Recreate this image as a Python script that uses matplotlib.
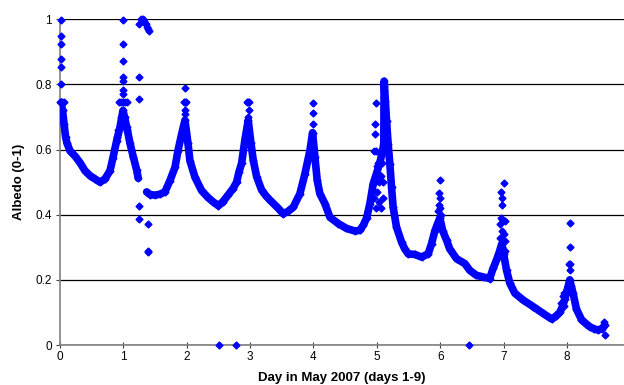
import matplotlib.pyplot as plt

# Albedo record, May 2007 (x = day of month offset, y = albedo 0-1)
# first run: day 0 to the gap after the day-1 peak
days_a = [0.016, 0.04, 0.063, 0.087, 0.11, 0.158, 0.237, 0.315, 0.394, 0.473,
          0.552, 0.631, 0.71, 0.789, 0.836, 0.894, 0.946, 0.994, 1.052, 1.104,
          1.156, 1.21, 1.235]
albedo_a = [0.745, 0.72, 0.68, 0.64, 0.62, 0.596, 0.58, 0.56, 0.535, 0.52,
            0.51, 0.50, 0.51, 0.535, 0.575, 0.627, 0.668, 0.72, 0.67, 0.62,
            0.578, 0.537, 0.512]

# second run: day 1.37 to the end of the record
days_b = [1.367, 1.42, 1.498, 1.577, 1.656, 1.735, 1.814, 1.861, 1.92, 1.972,
          2.019, 2.05, 2.13, 2.235, 2.334, 2.413, 2.497, 2.571, 2.65, 2.729,
          2.787, 2.823, 2.866, 2.918, 2.97, 3.013, 3.049, 3.103, 3.181, 3.25,
          3.312, 3.443, 3.522, 3.596, 3.68, 3.785, 3.864, 3.943, 3.986, 4.022,
          4.058, 4.1, 4.18, 4.26, 4.39, 4.52, 4.653, 4.73, 4.784, 4.838,
          4.89, 4.942, 5.0, 5.047, 5.095, 5.11, 5.115, 5.134, 5.153, 5.178,
          5.205, 5.232, 5.257, 5.31, 5.39, 5.44, 5.494, 5.6, 5.705, 5.81,
          5.863, 5.915, 5.954, 5.994, 6.04, 6.1, 6.15, 6.257, 6.388, 6.467,
          6.57, 6.677, 6.78, 6.834, 6.887, 6.94, 6.97, 7.0, 7.046, 7.098,
          7.177, 7.308, 7.465, 7.623, 7.756, 7.823, 7.886, 7.934, 7.965, 8.017,
          8.044, 8.068, 8.096, 8.15, 8.229, 8.297, 8.36, 8.423, 8.49, 8.549,
          8.596]
albedo_b = [0.47, 0.462, 0.46, 0.463, 0.47, 0.505, 0.545, 0.596, 0.648, 0.69,
            0.62, 0.566, 0.515, 0.474, 0.453, 0.44, 0.428, 0.44, 0.46, 0.48,
            0.5, 0.53, 0.558, 0.63, 0.69, 0.62, 0.568, 0.517, 0.476, 0.458,
            0.445, 0.42, 0.403, 0.41, 0.423, 0.464, 0.525, 0.596, 0.652, 0.578,
            0.507, 0.465, 0.434, 0.392, 0.373, 0.358, 0.35, 0.352, 0.367, 0.39,
            0.434, 0.495, 0.53, 0.56, 0.6, 0.62, 0.81, 0.75, 0.688, 0.617,
            0.556, 0.484, 0.423, 0.362, 0.316, 0.295, 0.28, 0.278, 0.27, 0.28,
            0.311, 0.35, 0.37, 0.39, 0.35, 0.322, 0.295, 0.265, 0.25, 0.229,
            0.214, 0.209, 0.204, 0.235, 0.26, 0.29, 0.31, 0.28, 0.23, 0.19,
            0.159, 0.138, 0.118, 0.097, 0.08, 0.088, 0.1, 0.12, 0.14, 0.179,
            0.2, 0.18, 0.159, 0.11, 0.078, 0.066, 0.056, 0.05, 0.046, 0.05,
            0.06]

# scattered readings around the noon peaks, the snow-covered sensor and dropouts
spike_days = [0.01, 0.01, 0.012, 0.02, 0.016, 0.01, 0.0, 0.03, 0.06,
              0.995, 0.995, 0.995, 0.998, 1.0, 1.0, 1.0,
              0.93, 0.96, 0.99, 1.02, 1.05, 0.9, 0.92, 0.97, 1.03, 1.06,
              1.246, 1.278, 1.304, 1.325, 1.341, 1.356, 1.377, 1.393, 1.408,
              1.246, 1.246, 1.246, 1.246, 1.393, 1.393, 1.393,
              1.975, 1.96, 1.975, 1.99, 1.97, 1.98,
              2.95, 2.965, 2.98, 2.975, 2.96,
              3.99, 3.99, 3.99,
              4.98, 4.97, 4.97, 4.96, 4.98, 5.05, 4.95, 4.97, 4.99, 5.0,
              5.01, 5.03, 5.04, 5.06, 5.07, 5.09, 5.1, 5.08, 5.02,
              5.115, 5.115, 5.115, 5.118, 5.118,
              5.99, 5.98, 5.99, 5.98, 6.0, 5.97, 6.01,
              7.01, 6.96, 6.97, 6.98, 6.96, 6.99, 7.02, 6.95, 6.95, 6.98,
              7.0, 7.02, 6.97, 7.03,
              8.044, 8.05, 8.044, 8.03, 8.05, 7.9, 7.93, 7.96, 7.95,
              8.6, 8.59,
              2.513, 2.776, 6.45]
spike_albedo = [0.998, 0.949, 0.923, 0.877, 0.855, 0.80, 0.745, 0.745, 0.745,
                0.998, 0.923, 0.872, 0.824, 0.81, 0.783, 0.77,
                0.745, 0.745, 0.745, 0.745, 0.745, 0.64, 0.66, 0.70, 0.70, 0.66,
                0.985, 1.0, 1.0, 0.995, 0.99, 0.985, 0.975, 0.97, 0.965,
                0.824, 0.755, 0.427, 0.387, 0.373, 0.29, 0.285,
                0.79, 0.745, 0.745, 0.745, 0.72, 0.71,
                0.745, 0.745, 0.745, 0.72, 0.70,
                0.744, 0.713, 0.68,
                0.744, 0.68, 0.648, 0.596, 0.596, 0.59, 0.45, 0.5, 0.42, 0.47,
                0.55, 0.44, 0.5, 0.42, 0.52, 0.45, 0.5, 0.56, 0.56,
                0.795, 0.78, 0.76, 0.73, 0.70,
                0.507, 0.466, 0.45, 0.43, 0.42, 0.41, 0.40,
                0.498, 0.47, 0.45, 0.43, 0.39, 0.385, 0.38, 0.37, 0.33, 0.35,
                0.34, 0.32, 0.30, 0.29,
                0.375, 0.30, 0.25, 0.25, 0.23, 0.13, 0.15, 0.16, 0.12,
                0.031, 0.07,
                0.0, 0.0, 0.0]

blue = '#0000FF'

fig = plt.figure(figsize=(6.24, 3.85), dpi=100)
ax = fig.add_axes([60 / 624, 40 / 385, 564 / 624, 325.7 / 385])

for d, a in [(days_a, albedo_a), (days_b, albedo_b)]:
    ax.plot(d, a, color=blue, lw=5.5, solid_capstyle='round',
            solid_joinstyle='round', zorder=3)
    ax.plot(d, a, ls='none', marker='D', ms=3.5, color=blue, zorder=3)
ax.plot(spike_days, spike_albedo, ls='none', marker='D', ms=3.5, color=blue,
        clip_on=False, zorder=4)

ax.set_xlim(0, 8.9)
ax.set_ylim(0, 1)
ax.set_xticks(range(0, 9))
ax.set_yticks([0, 0.2, 0.4, 0.6, 0.8, 1])
ax.set_yticklabels(['0', '0.2', '0.4', '0.6', '0.8', '1'])
ax.yaxis.grid(True, color='black', lw=0.9)
ax.set_axisbelow(True)

for side in ['top', 'right']:
    ax.spines[side].set_visible(False)
for side in ['left', 'bottom']:
    ax.spines[side].set_color('#808080')
    ax.spines[side].set_linewidth(1.2)

ax.tick_params(axis='x', direction='inout', length=5, color='#404040',
               labelsize=8.5, pad=2)
ax.tick_params(axis='y', direction='out', length=3, color='#404040',
               labelsize=8.5, pad=3)
for lbl in ax.get_xticklabels() + ax.get_yticklabels():
    lbl.set_family('Liberation Sans')

ax.set_xlabel('Day in May 2007 (days 1-9)', family='Liberation Sans',
              fontweight='bold', fontsize=9.5, labelpad=6)
ax.set_ylabel('Albedo (0-1)', family='Liberation Sans',
              fontweight='bold', fontsize=9.5, labelpad=7)

fig.savefig('out.png', dpi=100)
